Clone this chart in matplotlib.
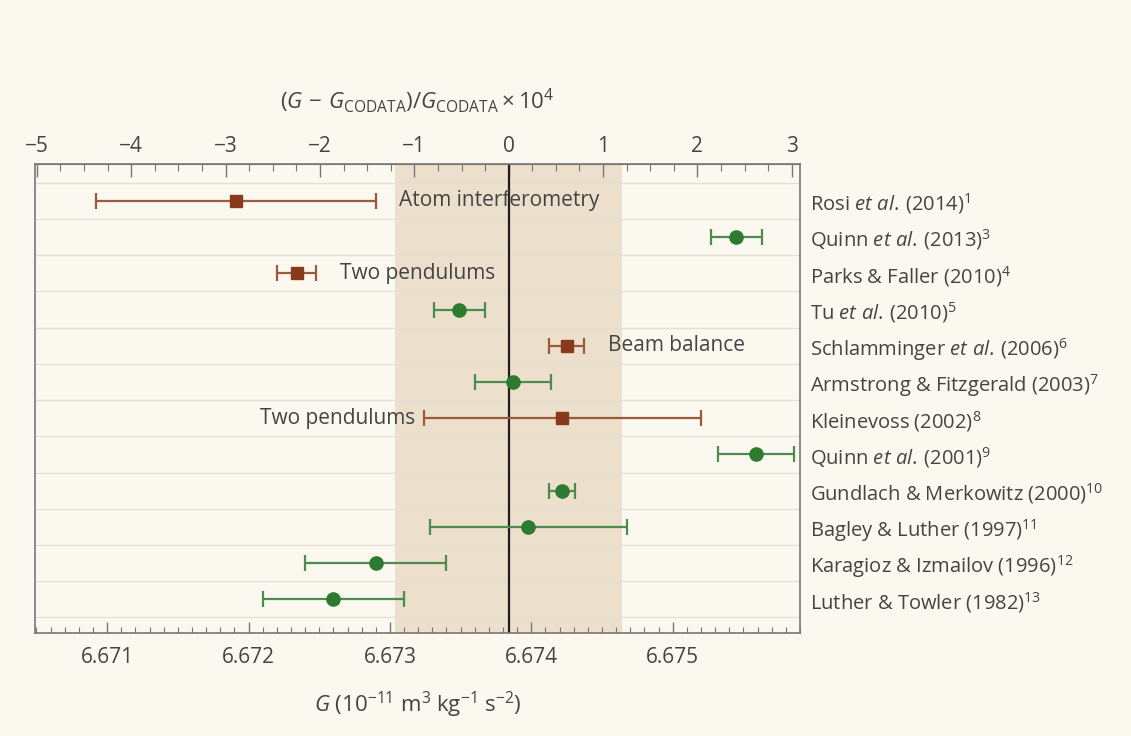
import matplotlib
matplotlib.use("Agg")
import matplotlib.pyplot as plt
from matplotlib.ticker import MultipleLocator, FixedLocator

plt.rcParams['font.family'] = ['Open Sans', 'DejaVu Sans']
plt.rcParams['mathtext.fontset'] = 'custom'
plt.rcParams['mathtext.rm'] = 'Open Sans'
plt.rcParams['mathtext.it'] = 'Open Sans:italic'
plt.rcParams['mathtext.bf'] = 'Open Sans:bold'

# ---- data ----
labels = [
    r'Rosi $\mathit{et\ al.}\,$(2014)$^{1}$',
    r'Quinn $\mathit{et\ al.}\,$(2013)$^{3}$',
    r'Parks & Faller (2010)$^{4}$',
    r'Tu $\mathit{et\ al.}\,$(2010)$^{5}$',
    r'Schlamminger $\mathit{et\ al.}\,$(2006)$^{6}$',
    r'Armstrong & Fitzgerald (2003)$^{7}$',
    r'Kleinevoss (2002)$^{8}$',
    r'Quinn $\mathit{et\ al.}\,$(2001)$^{9}$',
    r'Gundlach & Merkowitz (2000)$^{10}$',
    r'Bagley & Luther (1997)$^{11}$',
    r'Karagioz & Izmailov (1996)$^{12}$',
    r'Luther & Towler (1982)$^{13}$',
]
G_values = [6.67191, 6.67545, 6.67234, 6.67349, 6.674252, 6.67387,
            6.67422, 6.67559, 6.674215, 6.67398, 6.6729, 6.6726]
G_errors = [0.00099, 0.00018, 0.00014, 0.00018, 0.000124, 0.00027,
            0.00098, 0.00027, 0.000092, 0.00070, 0.0005, 0.0005]
square_rows = [0, 2, 4, 6]   # brown squares; others green circles
annotations = [(0, 'Atom interferometry', 'right_of_bar'),
               (2, 'Two pendulums', 'right_of_bar'),
               (4, 'Beam balance', 'right_of_bar'),
               (6, 'Two pendulums', 'left_of_bar')]
top_ticks = [-5, -4, -3, -2, -1, 0, 1, 2, 3]
G_codata = 6.67384
rel_unc_codata = 1.2e-4

bg = '#faf8ef'
band_color = '#ecdfcb'
brown_m, brown_l = '#8a3a1c', '#9c5a3a'
green_m, green_l = '#2d7a30', '#4e8b50'
text_c = '#444444'
spine_c = '#777777'

fig = plt.figure(figsize=(11.31, 7.36), dpi=100, facecolor=bg)
ax = fig.add_axes([0.031, 0.14, 0.6763, 0.6372], facecolor=bg)

ax.set_xlim(6.67049, 6.6759)
ax.set_ylim(11.93, -1.02)

# CODATA band and central line
ax.axvspan(G_codata * (1 - rel_unc_codata), G_codata * (1 + rel_unc_codata),
           color=band_color, zorder=0, lw=0)
ax.axvline(G_codata, color='#1e1e1e', lw=1.6, zorder=2)

# horizontal separators
for i in range(len(labels) + 1):
    ax.axhline(i - 0.5, color='#e2dfd6', lw=0.9, zorder=1)

for i, (g, e) in enumerate(zip(G_values, G_errors)):
    if i in square_rows:
        mk, mc, lc, ms = 's', brown_m, brown_l, 9
    else:
        mk, mc, lc, ms = 'o', green_m, green_l, 9.5
    ax.errorbar(g, i, xerr=e, fmt=mk, color=lc, mfc=mc, mec=mc, ms=ms,
                elinewidth=1.6, capsize=5.5, capthick=1.6, zorder=3)

for row, txt, where in annotations:
    g, e = G_values[row], G_errors[row]
    if where == 'right_of_bar':
        ax.annotate(txt, (g + e, row), xytext=(17, 0), textcoords='offset points',
                    ha='left', va='center', fontsize=15, color=text_c)
    else:
        ax.annotate(txt, (g - e, row), xytext=(-6, 0), textcoords='offset points',
                    ha='right', va='center', fontsize=15, color=text_c)

# y labels on right
ax.set_yticks(range(len(labels)))
ax.set_yticklabels(labels, fontsize=14.5, color=text_c)
ax.yaxis.tick_right()
ax.tick_params(axis='y', length=0, pad=7)

# bottom axis
ax.xaxis.set_major_locator(MultipleLocator(0.001))
ax.xaxis.set_minor_locator(MultipleLocator(0.0001))
ax.xaxis.set_major_formatter(matplotlib.ticker.FormatStrFormatter('%.3f'))
ax.tick_params(axis='x', which='major', direction='in', length=8, width=1,
               color=spine_c, labelsize=15, labelcolor=text_c, pad=10)
ax.tick_params(axis='x', which='minor', direction='in', length=4, width=0.8,
               color=spine_c)
ax.set_xlabel(r'$G$ (10$^{-11}$ m$^{3}$ kg$^{-1}$ s$^{-2}$)', fontsize=16,
              color=text_c, labelpad=16)

for s in ax.spines.values():
    s.set_color(spine_c)
    s.set_linewidth(1.2)

# top axis: relative deviation x 1e4
def g2rel(g):
    return (g - G_codata) / G_codata * 1e4

def rel2g(r):
    return G_codata * (1 + r * 1e-4)

sec = ax.secondary_xaxis('top', functions=(g2rel, rel2g))
sec.xaxis.set_major_locator(FixedLocator(top_ticks))
sec.xaxis.set_minor_locator(MultipleLocator(0.25))
sec.xaxis.set_major_formatter(matplotlib.ticker.FuncFormatter(
    lambda v, p: f'{int(round(v))}'.replace('-', '\u2212')))
sec.tick_params(axis='x', which='major', direction='in', length=9, width=1,
                color=spine_c, labelsize=15, labelcolor=text_c, pad=5)
sec.tick_params(axis='x', which='minor', direction='in', length=5, width=0.8,
                color=spine_c)
sec.spines['top'].set_color(spine_c)
sec.set_xlabel(r'$(G\,-\,G_{\rm CODATA})/G_{\rm CODATA}\times 10^{4}$',
               fontsize=16, color=text_c, labelpad=20)

fig.savefig('out.png', dpi=100, facecolor=bg)
